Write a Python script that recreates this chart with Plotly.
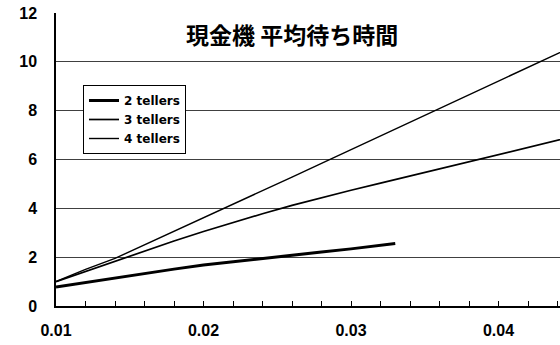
import plotly.graph_objects as go

# Arrival rate (x) and average waiting time for each teller count
rate_2 = [0.010, 0.012, 0.014, 0.016, 0.018, 0.020, 0.022, 0.024, 0.026, 0.028, 0.030, 0.032, 0.033]
wait_2 = [0.78, 0.97, 1.15, 1.33, 1.51, 1.68, 1.82, 1.95, 2.08, 2.21, 2.34, 2.48, 2.56]

rate_34 = [0.010, 0.012, 0.014, 0.016, 0.018, 0.020, 0.022, 0.024, 0.026, 0.028,
           0.030, 0.032, 0.034, 0.036, 0.038, 0.040, 0.042, 0.044, 0.046]
wait_3 = [1.00, 1.42, 1.85, 2.25, 2.66, 3.05, 3.42, 3.78, 4.12, 4.44,
          4.74, 5.03, 5.32, 5.61, 5.90, 6.20, 6.50, 6.79, 7.08]
wait_4 = [1.00, 1.50, 1.95, 2.50, 3.05, 3.60, 4.17, 4.72, 5.28, 5.84,
          6.40, 6.96, 7.52, 8.08, 8.64, 9.20, 9.77, 10.33, 10.90]

series_names = ["2 tellers", "3 tellers", "4 tellers"]
x_tick_vals = [0.01, 0.02, 0.03, 0.04]
x_tick_text = ["0.01", "0.02", "0.03", "0.04"]
y_tick_vals = [0, 2, 4, 6, 8, 10, 12]

title_text = "現金機 平均待ち時間"

fig = go.Figure()
fig.add_trace(go.Scatter(x=rate_2, y=wait_2, mode="lines", name=series_names[0],
                         line=dict(color="black", width=3)))
fig.add_trace(go.Scatter(x=rate_34, y=wait_3, mode="lines", name=series_names[1],
                         line=dict(color="black", width=1.7)))
fig.add_trace(go.Scatter(x=rate_34, y=wait_4, mode="lines", name=series_names[2],
                         line=dict(color="black", width=1.4)))

tick_font = dict(family="Liberation Sans", size=16, color="black", weight="bold")

# plot area spans x 56..560 px and y 13..306 px
def px_x(px):
    return (px - 56) / 504

def px_y(py):
    return (306 - py) / 293

fig.update_layout(
    width=560, height=345,
    margin=dict(l=56, r=0, t=13, b=39),
    paper_bgcolor="white", plot_bgcolor="white",
    showlegend=True,
    legend=dict(
        x=px_x(83), y=px_y(85), xanchor="left", yanchor="top",
        bgcolor="white", bordercolor="black", borderwidth=1,
        font=dict(family="DejaVu Sans", size=12, color="black", weight="bold"),
        tracegroupgap=0,
    ),
    annotations=[dict(
        text=title_text, xref="paper", yref="paper",
        x=px_x(292), y=px_y(34.5),
        xanchor="center", yanchor="middle", showarrow=False,
        font=dict(family="Noto Sans CJK JP", size=23, color="black", weight="bold"),
    )],
)

fig.update_xaxes(
    range=[0.01, 0.01 + 504 / 14750],
    tickvals=x_tick_vals, ticktext=x_tick_text,
    ticks="inside", ticklen=5, tickcolor="black", tickwidth=1,
    minor=dict(dtick=0.002, tick0=0, ticks="inside", ticklen=5,
               tickcolor="black", tickwidth=1, showgrid=False),
    showgrid=False, zeroline=False,
    showline=True, linecolor="black", linewidth=1.5,
    tickfont=tick_font, ticklabelstandoff=9,
)
fig.update_yaxes(
    range=[0, 12],
    tickvals=y_tick_vals,
    ticks="", showgrid=True, gridcolor="#404040", gridwidth=1,
    zeroline=False,
    showline=True, linecolor="black", linewidth=1.5,
    tickfont=tick_font, ticklabelstandoff=14,
)

fig.write_html("out.html")
